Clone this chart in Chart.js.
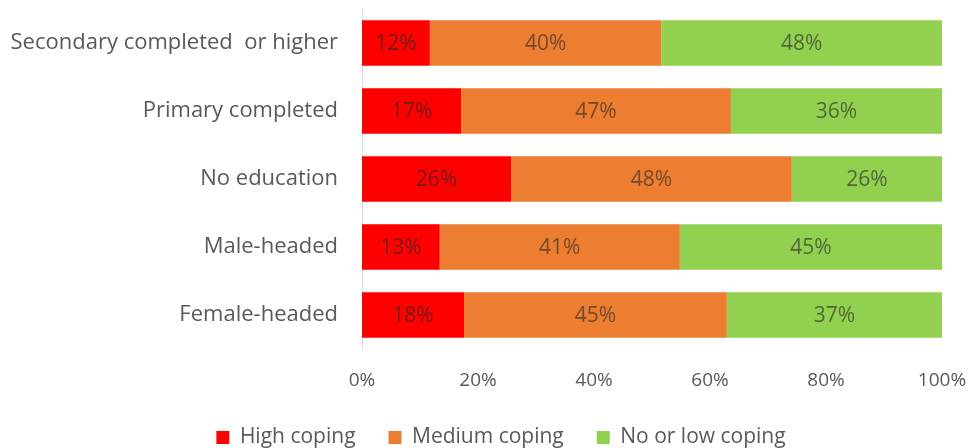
<!DOCTYPE html>
<html>
<head>
<meta charset="utf-8">
<script src="https://cdn.jsdelivr.net/npm/chart.js@4.4.1/dist/chart.umd.min.js"></script>
<style>
  html, body { margin: 0; padding: 0; background: #fff; }
  #wrap { width: 974px; height: 448px; }
</style>
</head>
<body>
<div id="wrap"><canvas id="myChart" width="974" height="448"></canvas></div>
<script>
const categories = ['Secondary completed  or higher', 'Primary completed', 'No education', 'Male-headed', 'Female-headed'];
const highCoping = [11.7, 17.1, 25.7, 13.4, 17.6];
const mediumCoping = [39.9, 46.5, 48.4, 41.4, 45.3];
const lowCoping = [48.4, 36.4, 25.9, 45.2, 37.1];
const xTicks = [0, 20, 40, 60, 80, 100];

const FONT = '"Open Sans", Lato, sans-serif';

// draws the % label in the middle of every segment
const segLabels = {
  id: 'segLabels',
  afterDatasetsDraw(chart) {
    const ctx = chart.ctx;
    ctx.save();
    ctx.font = '21px ' + FONT;
    ctx.fillStyle = 'rgba(40,40,40,0.62)';
    ctx.textAlign = 'center';
    ctx.textBaseline = 'middle';
    chart.data.datasets.forEach((ds, i) => {
      chart.getDatasetMeta(i).data.forEach((bar, j) => {
        const p = bar.getProps(['x', 'y', 'base']);
        ctx.fillText(Math.round(ds.data[j]) + '%', (p.x + p.base) / 2, p.y + 1);
      });
    });
    ctx.restore();
  }
};

// legend in the original sits a bit right of the canvas centre
const legendShift = {
  id: 'legendShift',
  afterLayout(chart) {
    chart.legend.left += 50;
  }
};

new Chart(document.getElementById('myChart'), {
  type: 'bar',
  data: {
    labels: categories,
    datasets: [
      { label: 'High coping', data: highCoping, backgroundColor: '#ff0000' },
      { label: 'Medium coping', data: mediumCoping, backgroundColor: '#ed7d31' },
      { label: 'No or low coping', data: lowCoping, backgroundColor: '#92d050' }
    ]
  },
  plugins: [segLabels, legendShift],
  options: {
    responsive: false,
    animation: false,
    indexAxis: 'y',
    layout: { padding: { left: 10, right: 32, top: 9, bottom: -10 } },
    datasets: { bar: { barPercentage: 0.67, categoryPercentage: 1 } },
    plugins: {
      tooltip: { enabled: false },
      legend: {
        position: 'bottom',
        labels: {
          color: '#595959',
          font: { size: 21, family: FONT },
          boxWidth: 13,
          boxHeight: 13,
          padding: 33
        }
      }
    },
    scales: {
      x: {
        stacked: true,
        min: 0,
        max: 100,
        afterBuildTicks: s => { s.ticks = xTicks.map(v => ({ value: v })); },
        afterFit: s => { s.height = 45; s.paddingLeft = 0; s.paddingRight = 0; },
        grid: { display: false, drawTicks: false },
        border: { display: false },
        ticks: {
          color: '#595959',
          font: { size: 19, family: FONT },
          padding: 20,
          callback: v => v + '%'
        }
      },
      y: {
        stacked: true,
        afterFit: s => { s.width = 352; s.paddingTop = 0; s.paddingBottom = 0; },
        grid: { display: false, drawTicks: false },
        border: { display: true, color: '#d9d9d9', width: 1 },
        ticks: {
          color: '#595959',
          font: { size: 22, family: FONT },
          padding: 24
        }
      }
    }
  }
});
</script>
</body>
</html>
